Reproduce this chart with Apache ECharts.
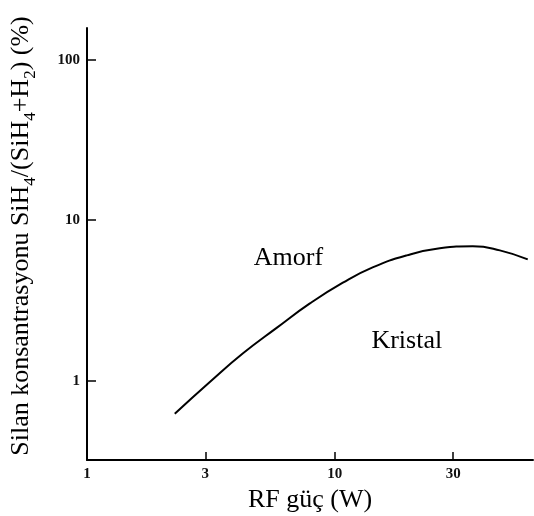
<!DOCTYPE html>
<html><head><meta charset="utf-8">
<script src="https://cdn.jsdelivr.net/npm/echarts@6/dist/echarts.min.js"></script>
<style>html,body{margin:0;padding:0;background:#fff}#c{width:534px;height:516px}</style>
</head><body><div id="c"></div>
<script>
const rfPower = [2.26, 3.13, 4.26, 5.84, 7.93, 10.77, 14.2, 19.5, 26.5, 36.0, 46.3, 60.0];
const silaneConc = [0.622, 0.98, 1.48, 2.14, 3.03, 4.08, 5.08, 6.04, 6.68, 6.88, 6.49, 5.70];
const xTicks = [1, 3, 10, 30];
const yTicks = [1, 10, 100];
const regionLabels = [{name: 'Amorf', x: 6.5, y: 5.8}, {name: 'Kristal', x: 19.5, y: 1.75}];

const chart = echarts.init(document.getElementById('c'));
const serif = '"Liberation Serif", "DejaVu Serif", serif';
chart.setOption({
  animation: false,
  grid: {left: 87, top: 28, right: 1, bottom: 56, outerBoundsMode: 'none', containLabel: false},
  xAxis: {
    type: 'log', logBase: 10, min: 1, max: 63,
    name: 'RF güç (W)', nameLocation: 'middle', nameGap: 26,
    nameTextStyle: {fontFamily: serif, fontSize: 26, color: '#000'},
    axisLine: {lineStyle: {color: '#000', width: 2}},
    axisTick: {show: true, inside: true, length: 8, customValues: xTicks, lineStyle: {color: '#000', width: 1.5}},
    axisLabel: {customValues: xTicks, fontFamily: serif, fontWeight: 'bold', fontSize: 15, color: '#111', margin: 7},
    splitLine: {show: false}, minorTick: {show: false}
  },
  yAxis: {
    type: 'log', logBase: 10, min: 0.32, max: 158,
    name: '{n|Silan konsantrasyonu SiH}{s|4}{n|/(SiH}{s|4}{n|+H}{s|2}{n|) (%)}',
    nameLocation: 'middle', nameGap: 53,
    nameTextStyle: {
      color: '#000', padding: [0, 0, 0, 16],
      rich: {
        n: {fontFamily: serif, fontSize: 26, color: '#000', lineHeight: 30, verticalAlign: 'bottom'},
        s: {fontFamily: serif, fontSize: 17, color: '#000', lineHeight: 30, verticalAlign: 'bottom', padding: [0, 0, -5, 0]}
      }
    },
    axisLine: {lineStyle: {color: '#000', width: 2}},
    axisTick: {show: true, inside: true, length: 9, customValues: yTicks, lineStyle: {color: '#000', width: 1.5}},
    axisLabel: {customValues: yTicks, fontFamily: serif, fontWeight: 'bold', fontSize: 15, color: '#111', margin: 7},
    splitLine: {show: false}, minorTick: {show: false}
  },
  series: [{
    type: 'line', smooth: 0.5, showSymbol: false,
    data: rfPower.map((x, i) => [x, silaneConc[i]]),
    lineStyle: {color: '#000', width: 2}
  }, {
    type: 'scatter', symbolSize: 0, itemStyle: {color: '#000', opacity: 1},
    data: regionLabels.map(r => ({value: [r.x, r.y], name: r.name})),
    label: {show: true, position: 'inside', formatter: p => p.name, fontFamily: serif, fontSize: 26, color: '#000', opacity: 1, textBorderWidth: 0}
  }]
});
</script></body></html>
